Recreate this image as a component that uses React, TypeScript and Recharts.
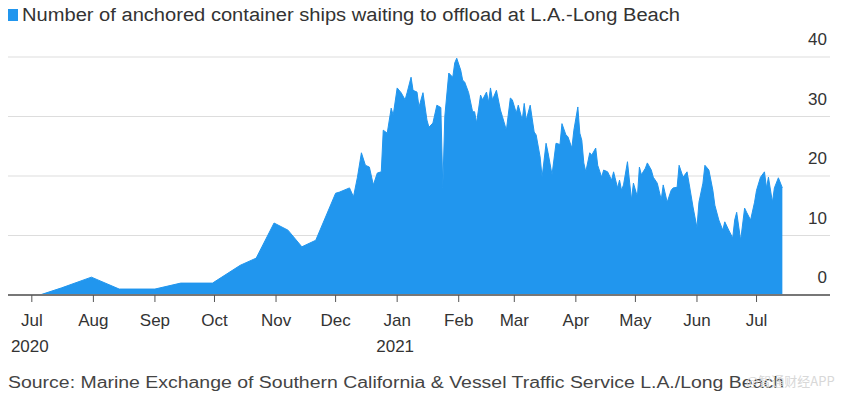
import React from 'react';
import { AreaChart, Area, XAxis, YAxis, CartesianGrid } from 'recharts';

// days since Jul 1 2020
const days = [
  0, 4, 15, 30, 44, 62, 75, 91, 105, 113, 122, 129, 136, 143, 153, 155, 160, 162, 164, 166,
  168, 170, 172, 174, 176, 177, 179, 181, 182, 184, 186, 188, 189, 191, 192, 194, 195, 197, 199, 200,
  202, 204, 206, 207, 208, 210, 212, 213, 214, 216, 217, 218, 220, 222, 223, 224, 226, 227, 229, 230,
  231, 232, 234, 236, 237, 239, 241, 242, 244, 245, 247, 248, 249, 251, 253, 254, 256, 257, 259, 260,
  262, 264, 266, 267, 269, 270, 272, 273, 275, 276, 277, 278, 279, 281, 282, 284, 285, 287, 288, 290,
  292, 293, 295, 296, 297, 298, 300, 302, 303, 305, 306, 307, 309, 310, 312, 313, 315, 317, 318, 320,
  322, 323, 325, 326, 328, 330, 331, 333, 335, 336, 338, 339, 341, 343, 344, 346, 348, 349, 351, 353,
  354, 355, 357, 359, 360, 362, 364, 365, 367, 369, 370, 371, 373, 374, 376, 378,
];

const ships = [
  0, 0, 1.2, 3.0, 1.0, 1.0, 2.0, 2.0, 5.0, 6.2, 12.1, 10.9, 8.1, 9.2, 17.1, 17.3, 18.0, 16.5, 19.8, 23.9,
  21.8, 21.5, 18.5, 20.5, 20.7, 27.7, 27.2, 31.4, 30.2, 34.8, 34.0, 32.8, 34.0, 36.6, 34.4, 34.1, 31.6, 34.0, 29.4, 28.2,
  28.9, 31.9, 31.5, 18.0, 30.0, 37.3, 36.6, 39.0, 39.8, 37.8, 36.1, 35.8, 34.0, 30.8, 30.8, 28.9, 33.6, 32.8, 34.1, 32.4,
  34.8, 32.8, 34.4, 31.1, 30.0, 27.7, 33.1, 32.8, 30.6, 31.9, 29.4, 32.2, 29.4, 31.9, 27.4, 26.9, 23.2, 19.8, 25.5, 23.9,
  20.2, 25.5, 25.3, 28.8, 26.9, 26.6, 24.7, 27.7, 31.6, 27.2, 26.0, 22.2, 20.7, 23.9, 23.5, 24.7, 21.8, 19.8, 21.0, 20.7,
  19.3, 20.7, 18.0, 19.3, 17.6, 18.5, 22.4, 16.0, 18.8, 16.5, 21.5, 20.2, 21.3, 22.2, 21.0, 19.8, 18.8, 16.0, 18.5, 15.6,
  17.6, 18.0, 18.1, 21.8, 19.8, 20.7, 18.8, 14.8, 11.3, 15.6, 18.8, 21.8, 21.0, 17.6, 15.1, 12.6, 10.9, 12.3, 10.9, 9.6,
  12.6, 13.9, 9.2, 14.6, 13.9, 12.6, 15.6, 17.6, 19.8, 20.7, 18.0, 19.8, 15.6, 18.0, 19.7, 18.0,
];

const monthTicks = [0, 31, 62, 92, 123, 153, 184, 215, 243, 274, 304, 335, 365];
const monthLabels = ['Jul', 'Aug', 'Sep', 'Oct', 'Nov', 'Dec', 'Jan', 'Feb', 'Mar', 'Apr', 'May', 'Jun', 'Jul'];
const yearLabels = ['2020', '', '', '', '', '', '2021', '', '', '', '', '', ''];
const yTicks = [0, 10, 20, 30, 40];

const data = days.map((d, i) => ({ day: d, ships: ships[i] }));

const BLUE = '#2196ee';
const FONT = '"Liberation Sans", Arial, Helvetica, sans-serif';

const MonthTick = (props: any) => {
  const { x, y, payload } = props;
  const i = monthTicks.indexOf(payload.value);
  return (
    <g>
      <text x={x} y={y + 22} textAnchor="middle" fontSize={17} fill="#333" fontFamily={FONT}>
        {monthLabels[i]}
      </text>
      {yearLabels[i] && (
        <text x={x - 2} y={y + 48} textAnchor="middle" fontSize={17} fill="#333" fontFamily={FONT}>
          {yearLabels[i]}
        </text>
      )}
    </g>
  );
};

const ValueTick = (props: any) => {
  const { x, y, payload } = props;
  return (
    <text x={x - 3} y={y - 12} textAnchor="end" fontSize={17} fill="#333" fontFamily={FONT}>
      {payload.value}
    </text>
  );
};

export default function App() {
  return (
    <div style={{ position: 'absolute', left: 0, top: 0, width: 843, height: 399, background: '#fff' }}>
      <svg width={843} height={399} style={{ position: 'absolute', left: 0, top: 0 }}>
        <rect x={8} y={9} width={10} height={12} fill={BLUE} />
        <text x={22} y={21} fontSize={18} fill="#333" fontFamily={FONT} textLength={658} lengthAdjust="spacingAndGlyphs">
          Number of anchored container ships waiting to offload at L.A.-Long Beach
        </text>
        <text x={8} y={388} fontSize={16} fill="#444" fontFamily={FONT} textLength={776} lengthAdjust="spacingAndGlyphs">
          Source: Marine Exchange of Southern California &amp; Vessel Traffic Service L.A./Long Beach
        </text>
      </svg>
      <div style={{ position: 'absolute', left: 0, top: 0 }}>
        <AreaChart width={843} height={399} data={data} margin={{ top: 57, right: 12, bottom: 44, left: 8 }}>
          <CartesianGrid vertical={false} stroke="#dddddd" />
          <XAxis
            dataKey="day"
            type="number"
            domain={[-12, 402]}
            ticks={monthTicks}
            interval={0}
            height={60}
            axisLine={{ stroke: '#777', strokeWidth: 2 }}
            tickLine={{ stroke: '#555' }}
            tickSize={7}
            tick={<MonthTick />}
          />
          <YAxis
            orientation="right"
            width={1}
            domain={[0, 40]}
            ticks={yTicks}
            interval={0}
            axisLine={false}
            tickLine={false}
            tickSize={0}
            tickMargin={0}
            tick={<ValueTick />}
          />
          <Area
            type="linear"
            dataKey="ships"
            stroke={BLUE}
            strokeWidth={1}
            fill={BLUE}
            fillOpacity={1}
            isAnimationActive={false}
          />
        </AreaChart>
      </div>
      <svg width={843} height={399} style={{ position: 'absolute', left: 0, top: 0, pointerEvents: 'none' }}>
        <text x={746} y={386} fontSize={13} fill="#d8d8d8" fontFamily={'"Noto Sans CJK SC", sans-serif'}>
          @智通财经APP
        </text>
      </svg>
    </div>
  );
}
